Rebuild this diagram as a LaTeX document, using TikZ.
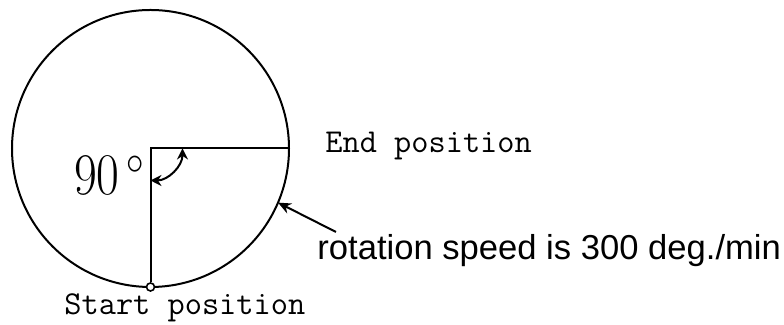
\documentclass[tikz,border=0pt]{standalone}
\usepackage{fontspec}
\newfontfamily\speedfont{Liberation Sans}
\usetikzlibrary{arrows.meta,positioning,calc}

\begin{document}
\begin{tikzpicture}[x=0.5pt, y=0.5pt,
    rim/.style={line width=1pt},
    tag/.style={font=\ttfamily\fontsize{16.7}{20}\selectfont, inner sep=0pt},
    pivot/.style={circle, draw, fill=white, line width=0.8pt,
                  minimum size=4pt, inner sep=0pt},
    sweeptip/.tip={Stealth[length=5.5pt, width=5.5pt]},
  ]
  \useasboundingbox (0,0) rectangle (784,325);

  \coordinate (O) at (150.5,176.5);
  \draw[rim] (O) circle[radius=69.25pt];
  \coordinate (endpt) at ($(O)+(0:69.25pt)$);
  \coordinate (startc) at ($(O)+(-90:69.25pt)$);
  \node[pivot] (startpt) at (startc) {};
  \draw[rim] (startpt) -- (O) -- (endpt);

  % swept angle
  \draw[rim, sweeptip-sweeptip] ($(O)+(-90:16pt)$) arc[start angle=-90, end angle=0, radius=16pt];
  \node[anchor=base east, font=\fontsize{29.5}{30}\selectfont, xscale=0.84,
        inner sep=0pt] (anglbl) at (145,130) {90\hspace{4pt}\raisebox{1pt}{$^\circ$}};

  \node[tag, anchor=base west] (endlbl) at (325,172) {End position};
  \node[tag, anchor=base west] (startlbl) at (64,10) {Start position};

  \node[anchor=base west, font=\speedfont\fontsize{17.3}{20}\selectfont,
        inner sep=0pt] (speedlbl) at (317,65) {rotation speed is 300 deg./min};
  \coordinate (hit) at ($(O)+(-23:69.25pt)$);
  \coordinate (tail) at (336,93);
  \draw[rim, -{Stealth[length=6.5pt, width=5.5pt]}] (tail) -- (hit);
\end{tikzpicture}
\end{document}
